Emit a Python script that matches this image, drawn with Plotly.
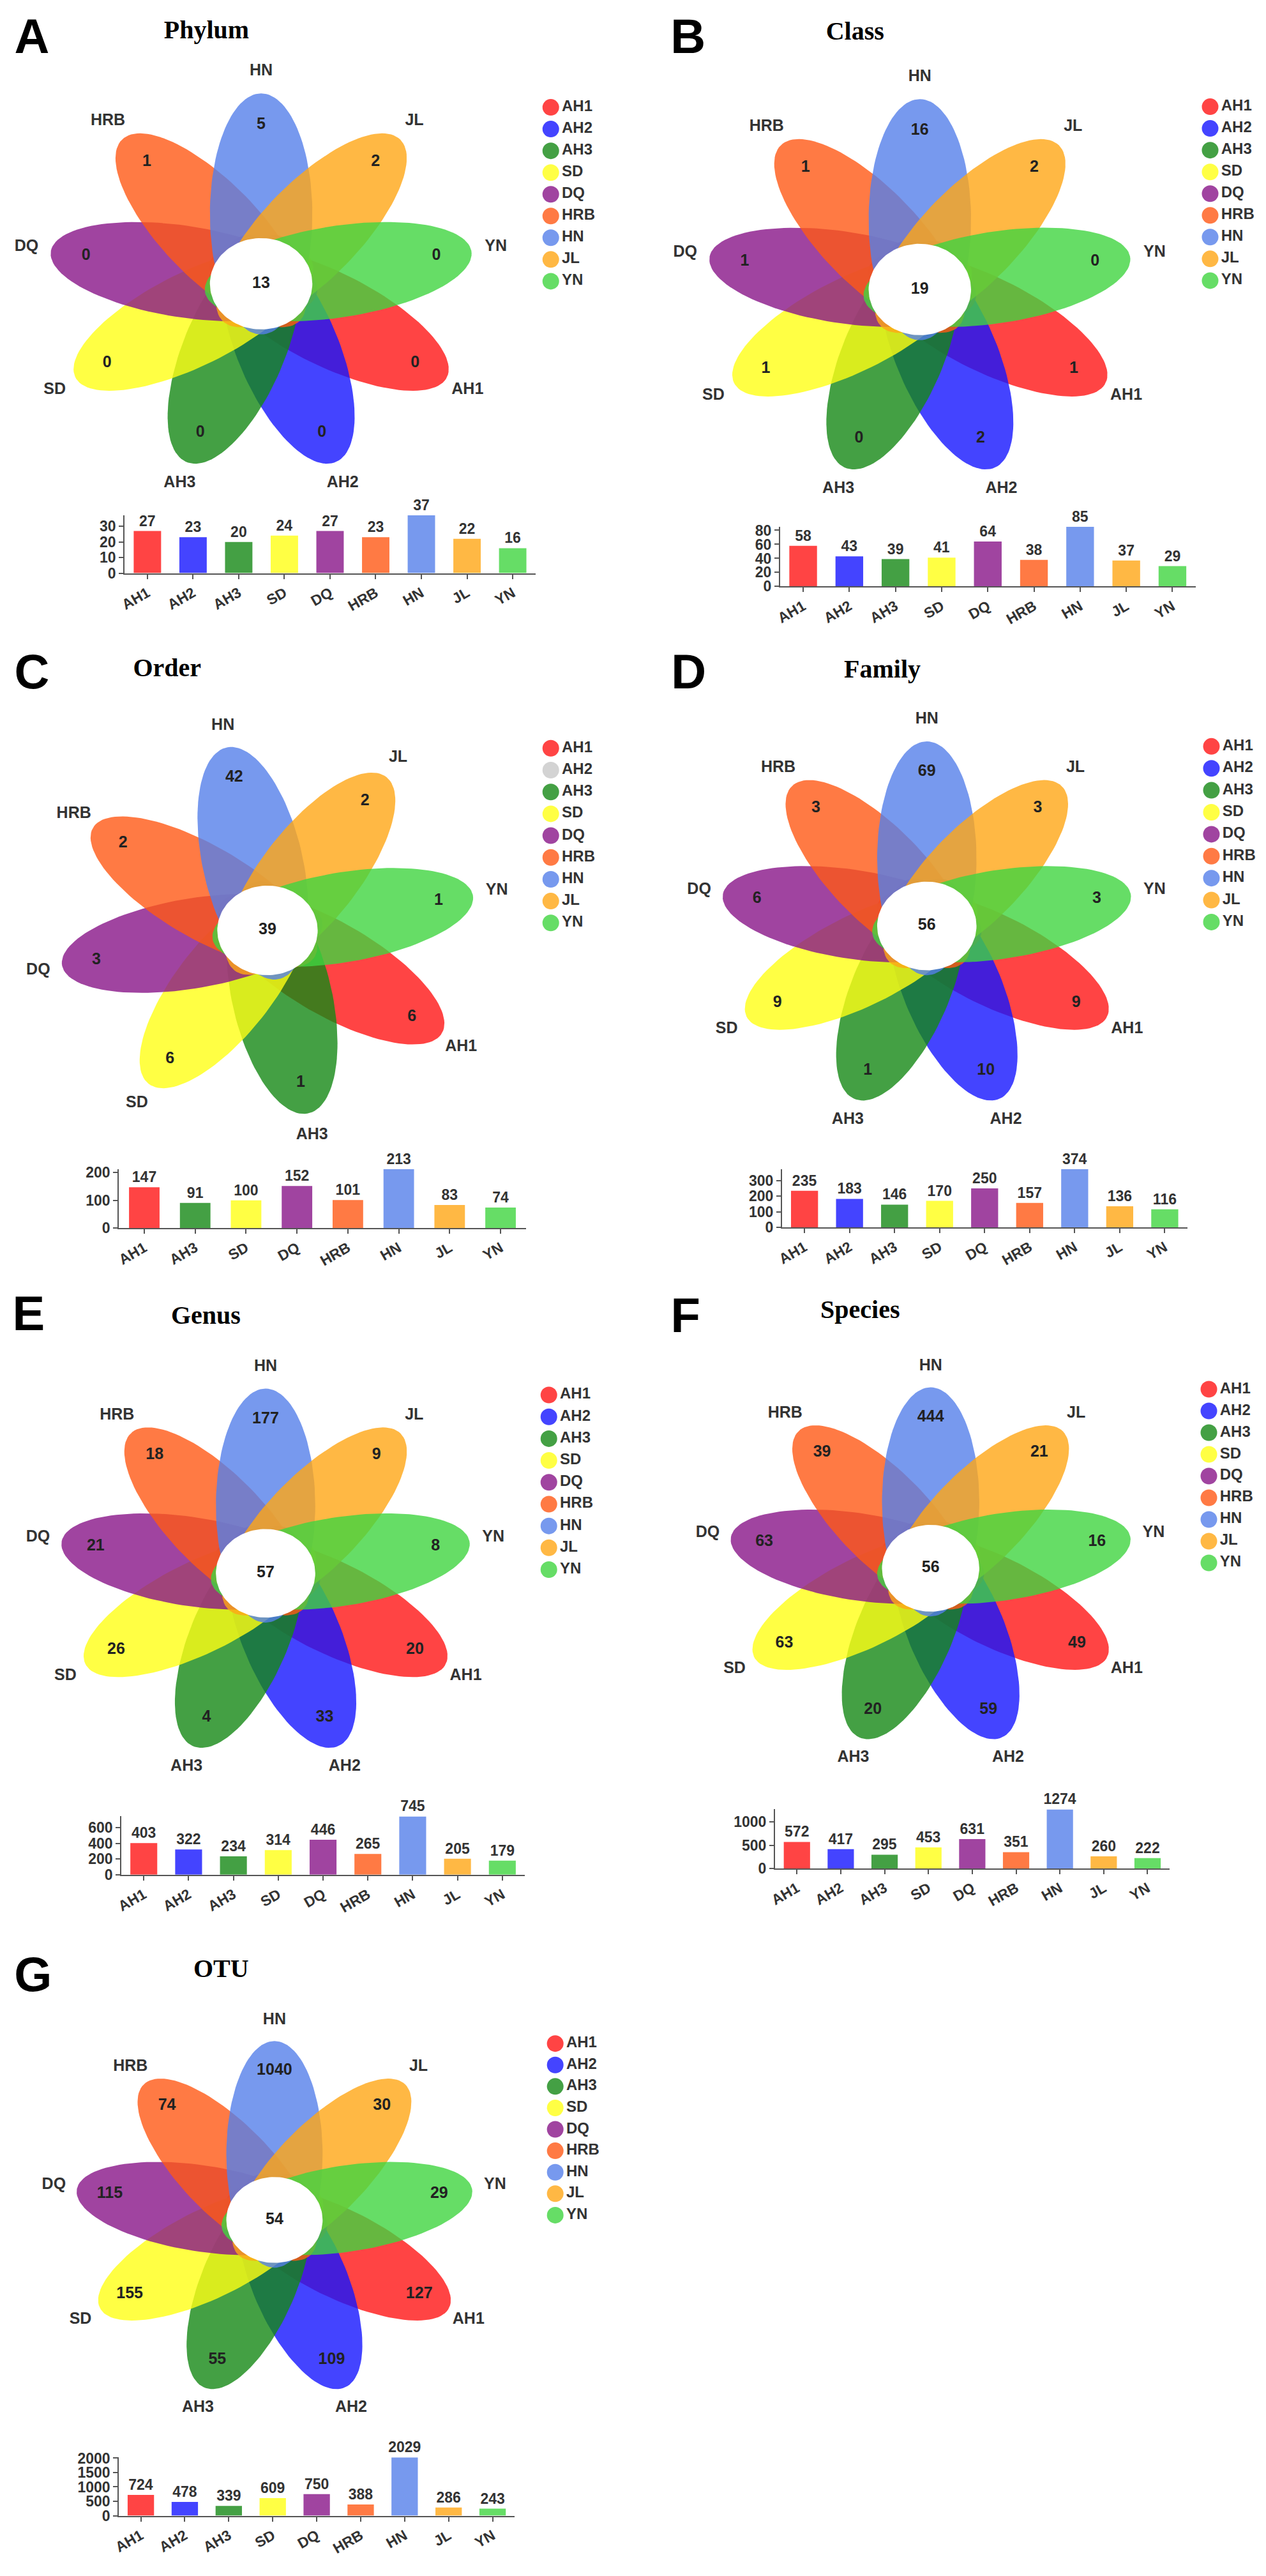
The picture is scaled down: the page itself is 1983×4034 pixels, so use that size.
import numpy as np
import plotly.graph_objects as go

W, H = 1983, 4034

# ---- data ----
samples = ['AH1', 'AH2', 'AH3', 'SD', 'DQ', 'HRB', 'HN', 'JL', 'YN']
samples_order = ['AH1', 'AH3', 'SD', 'DQ', 'HRB', 'HN', 'JL', 'YN']  # Order has no AH2

letters = ['A', 'B', 'C', 'D', 'E', 'F', 'G']
titles = ['Phylum', 'Class', 'Order', 'Family', 'Genus', 'Species', 'OTU']

phylum_unique = [0, 0, 0, 0, 0, 1, 5, 2, 0]
class_unique = [1, 2, 0, 1, 1, 1, 16, 2, 0]
order_unique = [6, 1, 6, 3, 2, 42, 2, 1]
family_unique = [9, 10, 1, 9, 6, 3, 69, 3, 3]
genus_unique = [20, 33, 4, 26, 21, 18, 177, 9, 8]
species_unique = [49, 59, 20, 63, 63, 39, 444, 21, 16]
otu_unique = [127, 109, 55, 155, 115, 74, 1040, 30, 29]

core_counts = [13, 19, 39, 56, 57, 56, 54]

phylum_total = [27, 23, 20, 24, 27, 23, 37, 22, 16]
class_total = [58, 43, 39, 41, 64, 38, 85, 37, 29]
order_total = [147, 91, 100, 152, 101, 213, 83, 74]
family_total = [235, 183, 146, 170, 250, 157, 374, 136, 116]
genus_total = [403, 322, 234, 314, 446, 265, 745, 205, 179]
species_total = [572, 417, 295, 453, 631, 351, 1274, 260, 222]
otu_total = [724, 478, 339, 609, 750, 388, 2029, 286, 243]

panel_samples = [samples, samples, samples_order, samples, samples, samples, samples]
panel_unique = [phylum_unique, class_unique, order_unique, family_unique,
                genus_unique, species_unique, otu_unique]
panel_total = [phylum_total, class_total, order_total, family_total,
               genus_total, species_total, otu_total]

colors = {
    'AH1': 'rgba(255,21,21,0.8)', 'AH2': 'rgba(21,21,255,0.8)', 'AH3': 'rgba(21,136,21,0.8)',
    'SD': 'rgba(255,255,21,0.8)', 'DQ': 'rgba(136,21,136,0.8)', 'HRB': 'rgba(255,89,21,0.8)',
    'HN': 'rgba(85,128,234,0.8)', 'JL': 'rgba(255,166,21,0.8)', 'YN': 'rgba(64,212,64,0.8)',
}
missing_color = 'rgba(211,211,211,1)'

# ---- layout of each panel, in pixels of the final picture ----
panels = [
    dict(box=(0, 0, 990, 1000), c=(393, 427), s=1.00, leg=(849, 149, 34.25), let=(32, 44),
         tit=(307, 30), bar=(178, 825, 883, 792), start=90, dtick=10),
    dict(box=(990, 0, 993, 1000), c=(1430, 436), s=1.00, leg=(1887, 148, 34.25), let=(1065, 44),
         tit=(1328, 32), bar=(1210, 1864, 904, 810), start=90, dtick=20),
    dict(box=(0, 1000, 990, 1000), c=(403, 1446), s=0.98, leg=(849, 1159, 34.4), let=(32, 1045),
         tit=(245, 1035), bar=(169, 810, 1915, 1822), start=101, dtick=100),
    dict(box=(990, 1000, 993, 1000), c=(1441, 1439), s=0.97, leg=(1889, 1156, 34.6), let=(1066, 1045),
         tit=(1371, 1037), bar=(1213, 1851, 1914, 1822), start=90, dtick=100),
    dict(box=(0, 2000, 990, 1000), c=(400, 2459), s=0.97, leg=(846, 2178, 34.4), let=(27, 2057),
         tit=(306, 2056), bar=(173, 808, 2934, 2842), start=90, dtick=200),
    dict(box=(990, 2000, 993, 1000), c=(1447, 2451), s=0.95, leg=(1885, 2169, 34.2), let=(1061, 2060),
         tit=(1336, 2047), bar=(1202, 1823, 2924, 2831), start=90, dtick=500),
    dict(box=(0, 3000, 990, 1034), c=(414, 3478), s=0.94, leg=(856, 3200, 33.8), let=(34, 3098),
         tit=(330, 3085), bar=(169, 792, 3944, 3852), start=90, dtick=500),
]

PETAL_A, PETAL_D, PETAL_B = 190, 110, 72
SX = 1.12
CORE_R = 72
NUM_R, NAME_R = 250, 335
TXT = '#333333'
FONT = 'Liberation Sans'


def petal_xy(cx, cy, ang, s):
    t = np.linspace(0, 2 * np.pi, 121)
    u = PETAL_D + PETAL_A * np.cos(t)
    v = PETAL_B * np.sin(t)
    th = np.radians(ang)
    X = u * np.cos(th) - v * np.sin(th)
    Y = u * np.sin(th) + v * np.cos(th)
    return cx + SX * s * X, cy - s * Y


def polar(cx, cy, ang, r, s):
    th = np.radians(ang)
    return cx + SX * s * r * np.cos(th), cy - s * r * np.sin(th)


fig = go.Figure()
layout = {}

for p, spec in enumerate(panels):
    fa = 2 * p + 1
    ba = 2 * p + 2
    fx, fy = ('x' if fa == 1 else f'x{fa}'), ('y' if fa == 1 else f'y{fa}')
    bx, by = f'x{ba}', f'y{ba}'
    px0, py0, pw, ph = spec['box']
    cx, cy = spec['c']
    s = spec['s']
    names = panel_samples[p]
    uniq = panel_unique[p]
    tot = panel_total[p]
    n = len(names)
    hn = names.index('HN')

    # flower axes: 1 unit = 1 pixel
    layout['xaxis' if fa == 1 else f'xaxis{fa}'] = dict(
        domain=[px0 / W, (px0 + pw) / W], range=[px0, px0 + pw], visible=False, fixedrange=True)
    layout['yaxis' if fa == 1 else f'yaxis{fa}'] = dict(
        domain=[1 - (py0 + ph) / H, 1 - py0 / H], range=[py0 + ph, py0], visible=False, fixedrange=True)

    angles = [spec['start'] - 360 / n * ((i - hn) % n) for i in range(n)]

    for i, nm in enumerate(names):
        ex, ey = petal_xy(cx, cy, angles[i], s)
        fig.add_trace(go.Scatter(x=ex, y=ey, mode='lines', fill='toself', fillcolor=colors[nm],
                                 line=dict(width=0), hoverinfo='skip', xaxis=fx, yaxis=fy))

    t = np.linspace(0, 2 * np.pi, 121)
    fig.add_trace(go.Scatter(x=cx + SX * s * CORE_R * np.cos(t), y=cy - s * CORE_R * np.sin(t),
                             mode='lines', fill='toself', fillcolor='white', line=dict(width=0),
                             hoverinfo='skip', xaxis=fx, yaxis=fy))

    nx, ny = zip(*[polar(cx, cy, a, NUM_R, s) for a in angles])
    fig.add_trace(go.Scatter(x=list(nx) + [cx], y=list(ny) + [cy], mode='text',
                             text=[str(v) for v in uniq] + [str(core_counts[p])],
                             textfont=dict(family=FONT, size=25, color='#222222', weight='bold'),
                             hoverinfo='skip', cliponaxis=False, xaxis=fx, yaxis=fy))

    lx, ly = zip(*[polar(cx, cy, a, NAME_R, s) for a in angles])
    fig.add_trace(go.Scatter(x=lx, y=ly, mode='text', text=names,
                             textfont=dict(family=FONT, size=25, color=TXT, weight='bold'),
                             hoverinfo='skip', cliponaxis=False, xaxis=fx, yaxis=fy))

    # legend
    gx, gy0, gdy = spec['leg']
    fig.add_trace(go.Scatter(
        x=[gx] * len(samples), y=[gy0 + k * gdy for k in range(len(samples))],
        mode='markers+text', text=samples, textposition='middle right',
        marker=dict(size=26, color=[colors[nm] if nm in names else missing_color for nm in samples],
                    line=dict(width=0)),
        textfont=dict(family=FONT, size=24, color=TXT, weight='bold'),
        hoverinfo='skip', cliponaxis=False, xaxis=fx, yaxis=fy))

    # panel letter and title
    fig.add_trace(go.Scatter(x=[spec['let'][0]], y=[spec['let'][1]], mode='text', text=[letters[p]],
                             textfont=dict(family=FONT, size=76, color='black', weight='bold'),
                             hoverinfo='skip', cliponaxis=False, xaxis=fx, yaxis=fy))
    fig.add_trace(go.Scatter(x=[spec['tit'][0]], y=[spec['tit'][1]], mode='text', text=[titles[p]],
                             textfont=dict(family='Liberation Serif', size=40, color='black', weight='bold'),
                             hoverinfo='skip', cliponaxis=False, xaxis=fx, yaxis=fy))

    # bar chart of totals
    bx0, bx1, base, top = spec['bar']
    fig.add_trace(go.Bar(x=names, y=tot, marker=dict(color=[colors[nm] for nm in names], line=dict(width=0)),
                         width=0.6, text=[str(v) for v in tot], textposition='outside',
                         constraintext='none',
                         textfont=dict(family=FONT, size=23, color=TXT, weight='bold'),
                         cliponaxis=False, hoverinfo='skip', xaxis=bx, yaxis=by))
    axis_style = dict(showline=True, linecolor='#555555', linewidth=2, ticks='outside', ticklen=7,
                      tickwidth=2, tickcolor='#555555', showgrid=False, zeroline=False, fixedrange=True,
                      tickfont=dict(family=FONT, size=23, color=TXT, weight='bold'))
    layout[f'xaxis{ba}'] = dict(domain=[bx0 / W, bx1 / W], anchor=by, range=[-0.5, n - 0.5],
                                tickangle=-30, type='category', **axis_style)
    layout[f'yaxis{ba}'] = dict(domain=[1 - base / H, 1 - top / H], anchor=bx, range=[0, max(tot)],
                                dtick=spec['dtick'], **axis_style)

fig.update_layout(width=W, height=H, margin=dict(l=0, r=0, t=0, b=0),
                  paper_bgcolor='white', plot_bgcolor='rgba(0,0,0,0)', showlegend=False,
                  bargap=0.4, uniformtext=dict(minsize=0, mode='show'), **layout)

fig.write_html('out.html')
